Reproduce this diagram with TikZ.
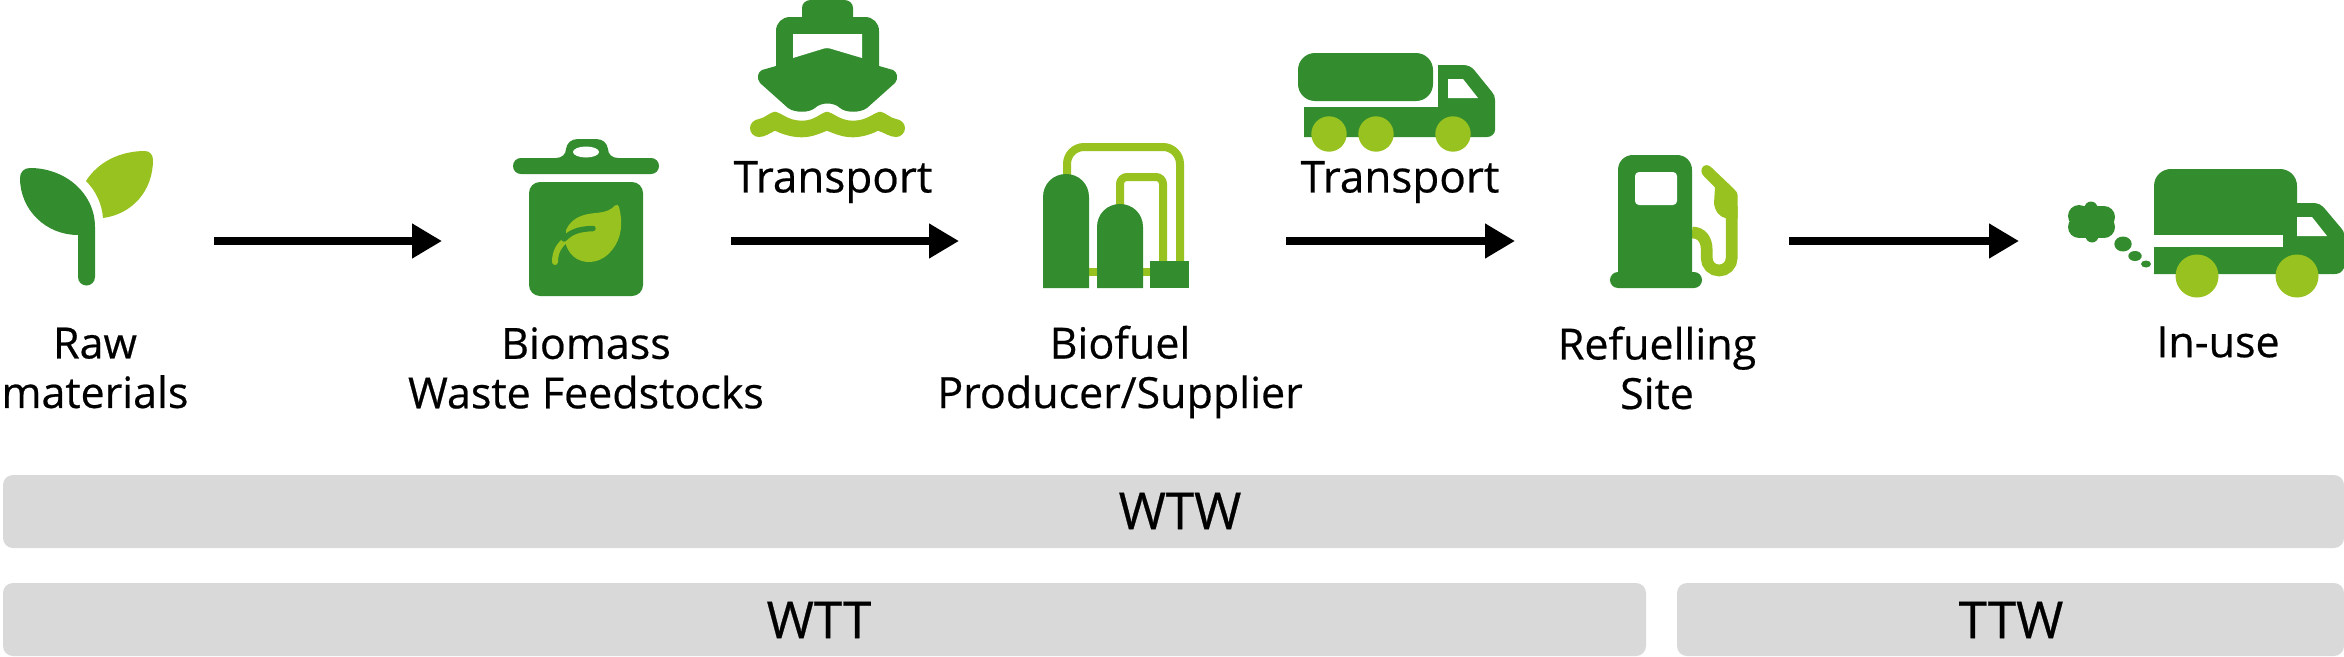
\documentclass[tikz,border=0pt]{standalone}
\usepackage{fontspec}
\setmainfont{Open Sans}
\newfontfamily\labf[FakeBold=0.5]{Open Sans}
\usetikzlibrary{arrows.meta}
\definecolor{dk}{HTML}{338D2E}
\definecolor{lt}{HTML}{98C21F}
\definecolor{barc}{HTML}{D9D9D9}
\tikzset{
  flow/.style={line width=8pt,-{Triangle[length=30pt,width=33pt]},shorten >=-1pt,black},
  lab/.style={align=center,inner sep=0pt,text=black,font=\labf\fontsize{43}{49.5}\selectfont},
  trlab/.style={inner sep=0pt,text=black,font=\labf\fontsize{44}{49.5}\selectfont},
  barlab/.style={inner sep=0pt,text=black,font=\labf\fontsize{51}{55}\selectfont},
  bar/.style={fill=barc,rounded corners=10pt},
  dkf/.style={fill=dk},
  ltf/.style={fill=lt},
  pipe/.style={draw=lt,line width=8pt},
}
\begin{document}
\begin{tikzpicture}[x=1pt,y=-1pt]
\useasboundingbox (0,0) rectangle (2344,656);
% bars
\fill[bar] (3,475) rectangle (2344,548);
\fill[bar] (3,583) rectangle (1646,656);
\fill[bar] (1677,583) rectangle (2344,656);
\node[barlab] (wtw) at (1180,511) {WTW};
\node[barlab] (wtt) at (819,620) {WTT};
\node[barlab] (ttw) at (2011,620) {TTW};
% labels
\node[lab] (raw) at (95,368) {Raw\\materials};
\node[lab] (bio) at (586,368) {Biomass\\Waste Feedstocks};
\node[lab] (prod) at (1120,372) {Biofuel\\Producer/Supplier};
\node[lab] (site) at (1657,368) {Refuelling\\Site};
\node[lab] (use) at (2218,342) {In-use};
\node[trlab] (tr1) at (833,182) {Transport};
\node[trlab] (tr2) at (1400,182) {Transport};
% connectors
\coordinate (a1) at (214,241); \coordinate (b1) at (441,241);
\coordinate (a2) at (731,241); \coordinate (b2) at (958,241);
\coordinate (a3) at (1286,241); \coordinate (b3) at (1514,241);
\coordinate (a4) at (1789,241); \coordinate (b4) at (2018,241);
\draw[flow] (a1) -- (b1);
\draw[flow] (a2) -- (b2);
\draw[flow] (a3) -- (b3);
\draw[flow] (a4) -- (b4);
% sprout
\fill[dkf] (30,168) .. controls (65,168) and (95,193) .. (95,227) -- (95,277)
  .. controls (95,282) and (91,285.5) .. (86.5,285.5) .. controls (82,285.5) and (78,282) .. (78,277) -- (78,235)
  .. controls (46,235) and (20,210) .. (20,178) .. controls (20,172) and (24,168) .. (30,168) -- cycle;
\fill[ltf] (86,181) .. controls (98,162) and (120,151) .. (145,151)
  .. controls (150,151) and (153,155) .. (153,160)
  .. controls (153,190) and (133,214) .. (103,218)
  .. controls (102,204) and (96,191) .. (86,181) -- cycle;
% bin
\fill[dkf,rounded corners=11pt] (529,182) rectangle (643,296);
\fill[dkf] (521,158) -- (556,158) .. controls (562,158) and (566,154) .. (566,149)
  .. controls (567,143) and (571,139) .. (578,139) -- (596,139)
  .. controls (603,139) and (607,143) .. (608,149)
  .. controls (608,154) and (612,158) .. (618,158) -- (651,158)
  .. controls (655.5,158) and (659,161.5) .. (659,166) .. controls (659,170.5) and (655.5,174) .. (651,174) -- (521,174)
  .. controls (516.5,174) and (513,170.5) .. (513,166) .. controls (513,161.5) and (516.5,158) .. (521,158) -- cycle;
\fill[white] (586,152) ellipse[x radius=13,y radius=5.5];
\fill[ltf] (566,230) .. controls (572,217) and (584,214) .. (596,213)
  .. controls (606,212) and (611,210) .. (615,205.5) .. controls (617,204) and (619,205) .. (619,207)
  .. controls (623,222) and (622,238) .. (612,250) .. controls (603,262) and (588,265) .. (577,259)
  .. controls (572,256) and (568,251) .. (566,245) -- cycle;
\draw[lt,line width=6pt,line cap=round] (555,262) .. controls (555,252) and (559,245) .. (566,240);
\draw[dk,line width=5.5pt,line cap=round] (564,239) .. controls (571,232) and (578,229) .. (593,228.5);
% ship
\fill[dkf] (802,17) -- (802,8) .. controls (802,3) and (806,0) .. (811,0) -- (844,0)
  .. controls (849,0) and (853,3) .. (853,8) -- (853,17) -- cycle;
\fill[dkf] (776,66) -- (776,31) .. controls (776,23) and (782,17) .. (790,17) -- (865,17)
  .. controls (873,17) and (879,23) .. (879,31) -- (879,66)
  -- (893,70) .. controls (897,72) and (899,78) .. (895,83)
  -- (867,108) .. controls (860,113) and (846,113) .. (840,108)
  .. controls (834,102) and (821,102) .. (815,108)
  .. controls (809,113) and (795,113) .. (788,108)
  -- (760,83) .. controls (756,78) and (758,72) .. (762,70) -- cycle;
\fill[white] (793,34) -- (862,34) -- (862,58) -- (830,48.5) .. controls (828,48) and (826,48) .. (824,48.5) -- (793,58) -- cycle;
\fill[ltf] (759,119) .. controls (765,118) and (770,112) .. (775,111.7)
  .. controls (782,113) and (788,120.7) .. (802,120.7)
  .. controls (815,120.7) and (820,113) .. (827,111.7)
  .. controls (834,113) and (840,120.7) .. (853,120.7)
  .. controls (867,120.7) and (873,113) .. (880,111.7)
  .. controls (885,112) and (890,118) .. (896,119)
  .. controls (901,119.5) and (905,123.5) .. (905,128) .. controls (905,133) and (901,137) .. (896,137)
  .. controls (890,137) and (885,133) .. (878,130.7)
  .. controls (870,135) and (860,137.3) .. (853,137.3)
  .. controls (843,137.3) and (835,134) .. (827,130.7)
  .. controls (819,134) and (811,137.3) .. (802,137.3)
  .. controls (793,137.3) and (784,135) .. (775,130.7)
  .. controls (770,133) and (765,137) .. (759,137)
  .. controls (754,137) and (750,133) .. (750,128) .. controls (750,123.5) and (754,119.5) .. (759,119) -- cycle;
% plant
\draw[pipe,rounded corners=17pt] (1067,176) -- (1067,147) -- (1180,147) -- (1180,262);
\draw[pipe,rounded corners=7pt] (1120,206) -- (1120,177) -- (1163,177) -- (1163,262);
\draw[pipe] (1088,272) -- (1151,272);
\fill[dkf] (1043,288) -- (1043,197) .. controls (1043,184) and (1053,174) .. (1066,174) .. controls (1079,174) and (1089,184) .. (1089,197) -- (1089,288) -- cycle;
\fill[dkf] (1097,288) -- (1097,227) .. controls (1097,214) and (1107,204) .. (1120,204) .. controls (1133,204) and (1143,214) .. (1143,227) -- (1143,288) -- cycle;
\fill[dkf] (1150,261) rectangle (1189,288);
% tanker
\fill[dkf,rounded corners=17pt] (1298,53) rectangle (1433,101);
\fill[dkf] (1304,107) -- (1438,107) -- (1438,65) -- (1463,65)
  .. controls (1468,65) and (1472,67) .. (1475,71)
  -- (1492,92) .. controls (1494,94) and (1495,97) .. (1495,100) -- (1495,130)
  .. controls (1495,134) and (1491,137) .. (1487,137) -- (1304,137) -- cycle;
\fill[white] (1448,79) -- (1463,79) -- (1478,98) -- (1448,98) -- cycle;
\fill[ltf] (1329,134) circle[radius=17.7];
\fill[ltf] (1376,134) circle[radius=17.7];
\fill[ltf] (1453,134) circle[radius=17.7];
% pump
\draw[lt,line width=11.7pt] (1692,232.5) .. controls (1702,232.5) and (1706.7,240) .. (1706.7,250) -- (1706.7,258)
  .. controls (1706.7,265) and (1712,270.5) .. (1719.2,270.5) .. controls (1726,270.5) and (1731.7,265) .. (1731.7,258) -- (1731.7,206);
\fill[ltf] (1704.3,176.7) -- (1715,187.3) -- (1714,203.3) .. controls (1715,212) and (1720,217) .. (1726,218.3)
  -- (1737.7,218.3) -- (1737.7,196.7) .. controls (1737.7,193) and (1736,190.5) .. (1733.3,188.3)
  -- (1712.3,168.3) .. controls (1705,160) and (1697,170) .. (1704.3,176.7) -- cycle;
\fill[dkf] (1618,272) -- (1618,170) .. controls (1618,161) and (1625,155) .. (1633,155) -- (1677,155)
  .. controls (1685,155) and (1692,161) .. (1692,170) -- (1692,272) -- cycle;
\fill[dkf,rounded corners=8pt] (1610,272) rectangle (1702,288);
\fill[white,rounded corners=4pt] (1635,172) rectangle (1677,205);
% truck
\fill[dkf] (2154,274) -- (2154,186) .. controls (2154,176) and (2162,169) .. (2171,169)
  -- (2280,169) .. controls (2289,169) and (2297,176) .. (2297,186) -- (2297,203) -- (2313,203)
  .. controls (2318,203) and (2322,205) .. (2325,209)
  -- (2341,228) .. controls (2343,230) and (2344,232) .. (2344,234)
  -- (2344,268) .. controls (2342,272) and (2339,274) .. (2335,274) -- cycle;
\fill[white] (2154,235) rectangle (2283,247);
\fill[white] (2297,217) -- (2312,217) -- (2327,236) -- (2297,236) -- cycle;
\fill[ltf] (2197,276) circle[radius=21.5];
\fill[ltf] (2297,276) circle[radius=21.5];
% smoke
\fill[dkf] (2079,216) circle[radius=11];
\fill[dkf] (2104,217) circle[radius=11];
\fill[dkf] (2079,227) circle[radius=11];
\fill[dkf] (2104,227) circle[radius=11];
\fill[dkf] (2091,208) circle[radius=6.5];
\fill[dkf] (2092,236) circle[radius=6.5];
\fill[dkf] (2074,212) rectangle (2109,232);
\fill[dkf] (2079,206) rectangle (2104,238);
\fill[dkf] (2123,244) ellipse[x radius=8.7,y radius=7.5];
\fill[dkf] (2135,256) ellipse[x radius=6.7,y radius=5];
\fill[dkf] (2146,264) ellipse[x radius=5,y radius=3.5];
\end{tikzpicture}
\end{document}
